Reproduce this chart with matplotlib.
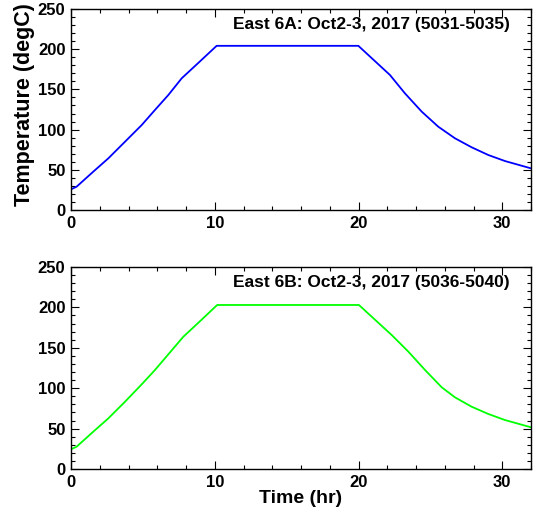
import numpy as np
import matplotlib.pyplot as plt
from matplotlib.ticker import MultipleLocator

plt.rcParams['font.family'] = ['Liberation Sans', 'DejaVu Sans']
plt.rcParams['font.weight'] = 'bold'

# East 6A (5031-5035)
time_a = [0.0, 0.05, 0.39, 1.55, 2.6, 3.76, 4.92, 5.84, 6.77, 7.7, 8.86, 10.13,
          15.0, 19.99, 22.19, 23.23, 24.4, 25.55, 26.71, 27.87, 29.03, 30.19, 32.0]
temp_a = [26.0, 26.1, 29.0, 47.7, 64.3, 85.0, 105.7, 124.4, 143.0, 163.8, 183.0, 204.2,
          204.2, 204.2, 167.9, 145.1, 122.3, 103.6, 89.2, 78.0, 68.4, 60.9, 51.8]

# East 6B (5036-5040)
time_b = [0.0, 0.05, 0.39, 1.55, 2.6, 3.76, 4.92, 5.84, 6.77, 7.82, 8.86, 10.17,
          15.0, 20.03, 22.31, 23.47, 24.63, 25.79, 26.71, 27.87, 29.03, 30.19, 32.0]
temp_b = [24.8, 24.8, 27.6, 46.2, 62.7, 83.3, 104.8, 122.5, 141.9, 163.8, 181.0, 203.0,
          203.0, 203.0, 165.8, 145.2, 122.5, 101.1, 88.7, 77.1, 68.1, 60.6, 51.6]

titles = ["East 6A: Oct2-3, 2017 (5031-5035)", "East 6B: Oct2-3, 2017 (5036-5040)"]
colors = ["#0000ff", "#00ff00"]

fig = plt.figure(figsize=(5.35, 5.13), dpi=100)
ax_top = fig.add_axes([71 / 535, 1 - 210 / 513, 460 / 535, 201 / 513])
ax_bot = fig.add_axes([71 / 535, 1 - 469 / 513, 460 / 535, 202 / 513])

for ax, t, T, title, c in zip([ax_top, ax_bot], [time_a, time_b], [temp_a, temp_b], titles, colors):
    ax.plot(t, T, color=c, linewidth=1.3)
    ax.set_xlim(0, 32)
    ax.set_ylim(0, 250)
    ax.xaxis.set_major_locator(MultipleLocator(10))
    ax.xaxis.set_minor_locator(MultipleLocator(2))
    ax.yaxis.set_major_locator(MultipleLocator(50))
    ax.yaxis.set_minor_locator(MultipleLocator(10))
    ax.tick_params(which='both', direction='in', top=True, right=True, labelsize=12, width=0.8)
    ax.tick_params(which='major', length=6, pad=4)
    ax.tick_params(which='minor', length=3)
    for lab in ax.get_xticklabels() + ax.get_yticklabels():
        lab.set_fontweight('bold')
    for s in ax.spines.values():
        s.set_linewidth(1.0)
    ax.text(0.954, 0.925, title, transform=ax.transAxes, ha='right', va='center',
            fontsize=12.5, fontweight='bold')

fig.text(25 / 535, 1 - 105 / 513, "Temperature (degC)", rotation=90, ha='center', va='center',
         fontsize=15.5, fontweight='bold')
ax_bot.set_xlabel("Time (hr)", fontsize=14, fontweight='bold', labelpad=0)

fig.savefig("out.png", dpi=100)
